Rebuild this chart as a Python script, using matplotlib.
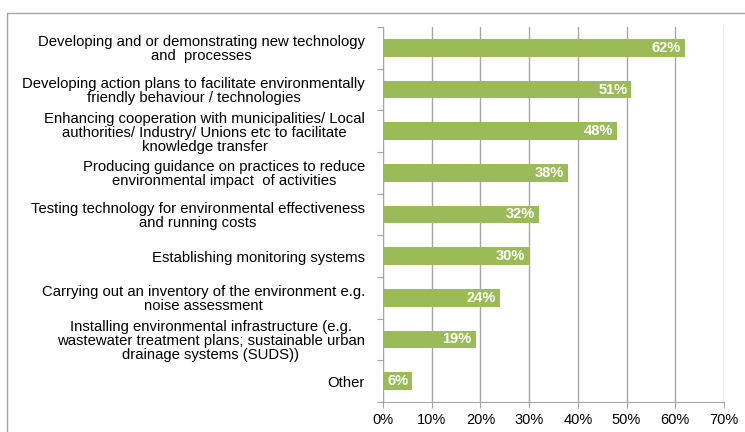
import matplotlib.pyplot as plt
from matplotlib.patches import Rectangle
import numpy as np

plt.rcParams['font.family'] = ['Liberation Sans', 'DejaVu Sans']

categories = [
    "Developing and or demonstrating new technology\nand  processes",
    "Developing action plans to facilitate environmentally\nfriendly behaviour / technologies",
    "Enhancing cooperation with municipalities/ Local\nauthorities/ Industry/ Unions etc to facilitate\nknowledge transfer",
    "Producing guidance on practices to reduce\nenvironmental impact  of activities",
    "Testing technology for environmental effectiveness\nand running costs",
    "Establishing monitoring systems",
    "Carrying out an inventory of the environment e.g.\nnoise assessment",
    "Installing environmental infrastructure (e.g.\nwastewater treatment plans; sustainable urban\ndrainage systems (SUDS))",
    "Other",
]
values = [62, 51, 48, 38, 32, 30, 24, 19, 6]
xticks = [0, 10, 20, 30, 40, 50, 60, 70]

bar_color = '#9BBB59'
grid_color = '#A6A6A6'

fig = plt.figure(figsize=(7.45, 4.32), dpi=100)
ax = fig.add_axes([383 / 745, 1 - 402 / 432, (724 - 383) / 745, (402 - 27) / 432])

y = np.arange(len(categories))
ax.barh(y, values, height=0.42, color=bar_color, zorder=3)
for yi, v in zip(y, values):
    ax.text(v - 0.8, yi, f"{v}%", ha='right', va='center', color='white',
            fontweight='bold', fontsize=10.5, zorder=4)

ax.set_xlim(0, 70)
ax.set_ylim(len(categories) - 0.5, -0.5)
ax.set_xticks(xticks)
ax.set_xticklabels([f"{t}%" for t in xticks], fontsize=10.5)
ax.xaxis.grid(True, color=grid_color, linewidth=1, zorder=0)

# category separators as ticks on left spine, labels placed as minor ticks
ax.set_yticks(np.arange(-0.5, len(categories), 1))
ax.set_yticklabels([])
ax.set_yticks(y, minor=True)
ax.set_yticklabels(categories, minor=True, fontsize=10.7,
                   multialignment='center', linespacing=1.0)
ax.tick_params(axis='y', which='minor', length=0, pad=13)
ax.tick_params(axis='y', which='major', length=4, color=grid_color)
ax.tick_params(axis='x', length=4, color=grid_color, pad=4)

for s in ['top', 'right']:
    ax.spines[s].set_visible(False)
for s in ['left', 'bottom']:
    ax.spines[s].set_color(grid_color)

# outer chart frame (cut off at right and bottom)
fig.patches.append(Rectangle((7 / 745, -0.1), 1.0, 1 - 13 / 432 + 0.1,
                             transform=fig.transFigure, fill=False,
                             edgecolor=grid_color, linewidth=1))

fig.savefig('out.png', dpi=100)
